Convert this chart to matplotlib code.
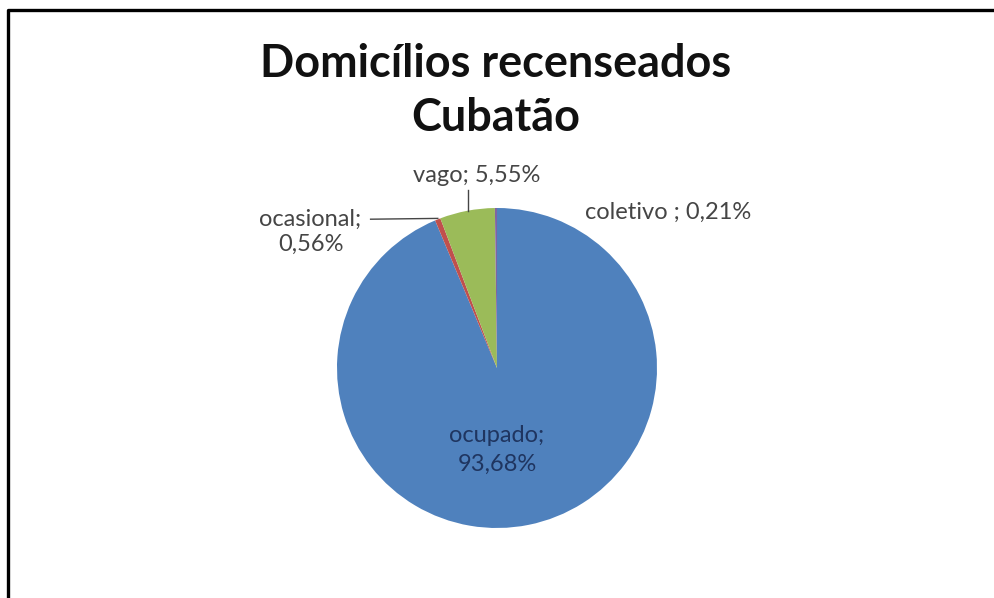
import matplotlib.pyplot as plt
from matplotlib.lines import Line2D

# Domicílios recenseados em Cubatão, por espécie (%)
categorias = ["ocupado", "ocasional", "vago", "coletivo"]
percentuais = [93.68, 0.56, 5.55, 0.21]
cores = ["#4F81BD", "#C0504D", "#9BBB59", "#8064A2"]

plt.rcParams["font.family"] = ["Lato", "DejaVu Sans"]

fig = plt.figure(figsize=(9.95, 5.98), dpi=100)

# moldura (só aparecem as bordas esquerda e superior)
fig.add_artist(Line2D([0.0085, 0.0085, 1.1], [-0.1, 0.9833, 0.9833],
                      color="black", linewidth=2.4, transform=fig.transFigure))

fig.text(0.4985, 0.893, "Domicílios recenseados", ha="center", va="center",
         fontsize=32.4, fontweight="bold", color="#111111")
fig.text(0.4985, 0.802, "Cubatão", ha="center", va="center",
         fontsize=32.4, fontweight="bold", color="#111111")

ax = fig.add_axes([337 / 995, 70 / 598, 320 / 995, 320 / 598])
ax.pie(percentuais, colors=cores, startangle=90, counterclock=False,
       radius=1.0, wedgeprops=dict(linewidth=0))
ax.set_xlim(-1, 1)
ax.set_ylim(-1, 1)
ax.set_aspect("equal")
ax.axis("off")


def pct(i):
    return f"{percentuais[i]:.2f}".replace(".", ",") + "%"


cinza = "#454545"
fs = 17
# ocupado, dentro da fatia
ax.text(0.0, -0.51, f"{categorias[0]};\n{pct(0)}", ha="center", va="center",
        fontsize=fs, color="#1F3560", linespacing=1.45)
# vago
ax.text(-0.13, 1.20, f"{categorias[2]}; {pct(2)}", ha="center", va="center",
        fontsize=fs, color=cinza, clip_on=False)
ax.plot([-0.18, -0.18], [1.11, 0.98], color=cinza, linewidth=1, clip_on=False)
# ocasional
ax.text(-1.165, 0.85, f"{categorias[1]};\n{pct(1)}", ha="center", va="center",
        fontsize=fs, color=cinza, linespacing=1.2, clip_on=False)
ax.plot([-0.79, -0.37], [0.93, 0.935], color=cinza, linewidth=1, clip_on=False)
# coletivo
ax.text(0.55, 0.97, f"{categorias[3]} ; {pct(3)}", ha="left", va="center",
        fontsize=fs, color=cinza, clip_on=False)

fig.savefig("out.png", dpi=100, facecolor="white")
